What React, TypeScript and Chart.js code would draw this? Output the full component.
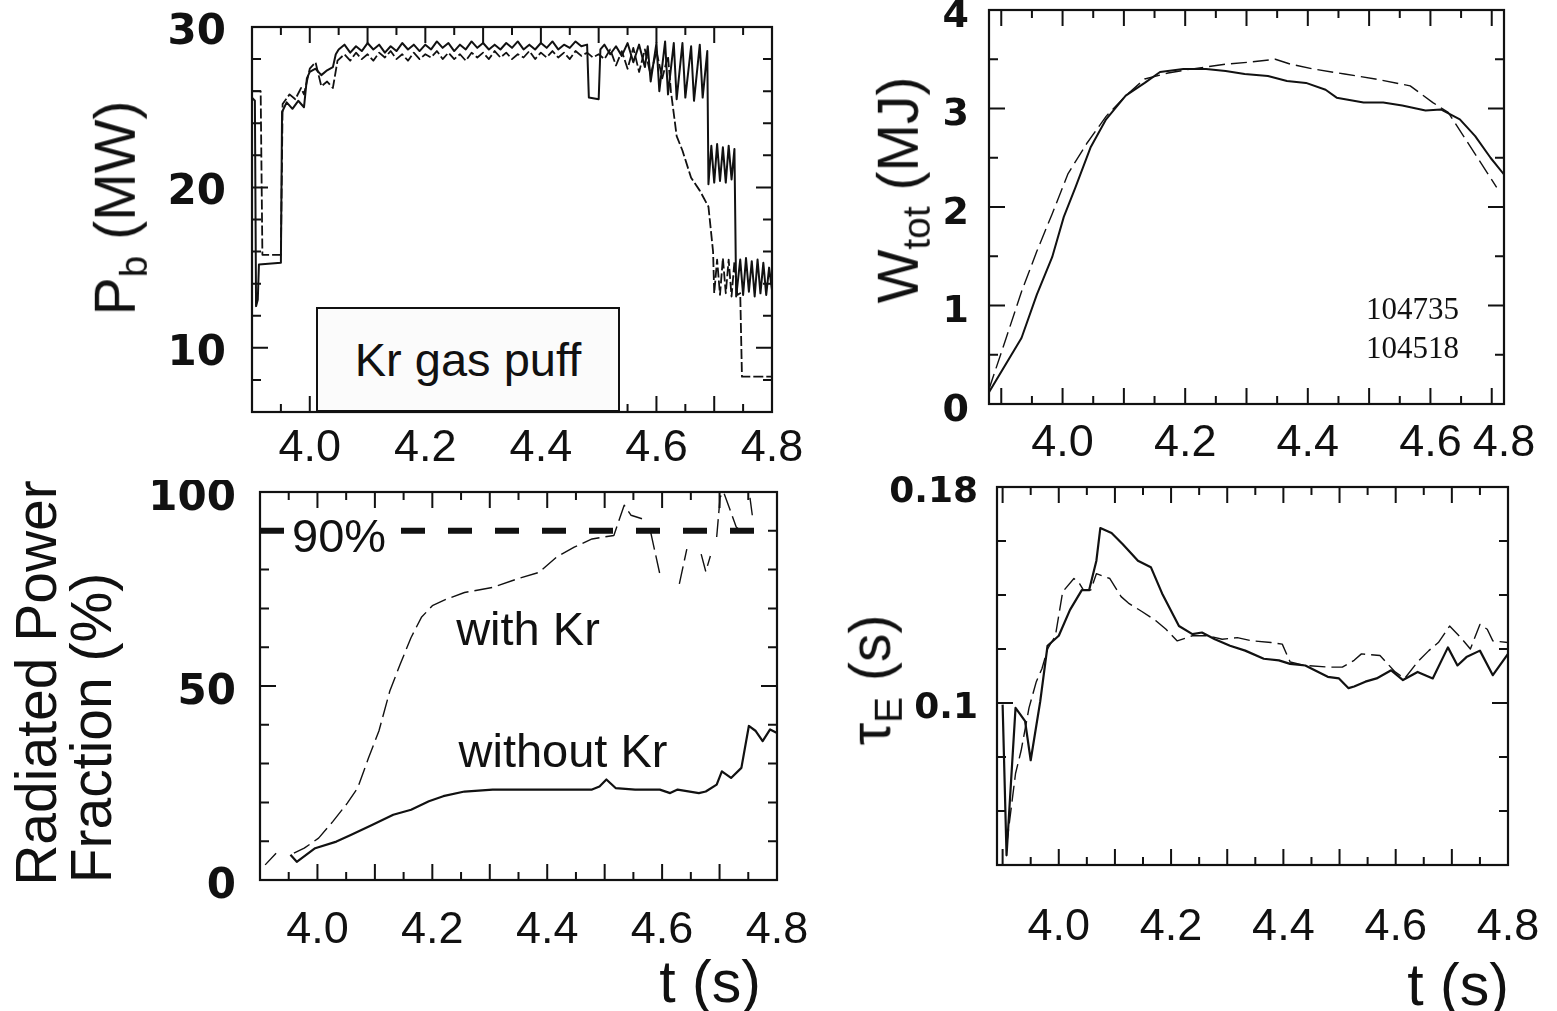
import React, { useEffect, useRef } from "react";
import { Chart, registerables } from "chart.js";
Chart.register(...registerables);

const SANS = "'Liberation Sans', Arial, Helvetica, sans-serif";
const BOLD_NUM = "'DejaVu Sans', 'Liberation Sans', sans-serif";
const SERIF = "'Liberation Serif', 'Times New Roman', serif";

// ---------- tick labels ----------
const X_TICK_VALUES = [4.0, 4.2, 4.4, 4.6, 4.8];
const X_TICK_LABELS = ["4.0", "4.2", "4.4", "4.6", "4.8"];
const P2_X_TICK_VALUES = [4.0, 4.2, 4.4, 4.6, 4.72];
const P1_Y_TICKS = [10, 20, 30];
const P2_Y_TICKS = [0, 1, 2, 3, 4];
const P3_Y_TICKS = [0, 50, 100];
const P4_Y_TICKS = [0.1, 0.18];
const P4_Y_LABELS = ["0.1", "0.18"];

// ---------- Panel 1: beam power P_b (MW) ----------
const P1_T_SOLID = [3.9, 3.905, 3.907, 3.91, 3.912, 3.95, 3.952, 3.96, 3.97, 3.98, 3.99, 3.995, 4.0, 4.01, 4.02, 4.03, 4.04, 4.045,
  4.05, 4.06, 4.07, 4.08, 4.09, 4.1, 4.11, 4.12, 4.13, 4.14, 4.15, 4.16, 4.17, 4.18, 4.19, 4.2, 4.21, 4.22, 4.23, 4.24, 4.25,
  4.26, 4.27, 4.28, 4.29, 4.3, 4.31, 4.32, 4.33, 4.34, 4.35, 4.36, 4.37, 4.38, 4.39, 4.4, 4.41, 4.42, 4.43, 4.44, 4.45, 4.46,
  4.47, 4.48, 4.483, 4.5, 4.503, 4.51, 4.52, 4.53, 4.54, 4.55, 4.56, 4.57, 4.58, 4.585, 4.59, 4.6, 4.605, 4.615, 4.62, 4.63,
  4.635, 4.645, 4.65, 4.66, 4.665, 4.675, 4.68, 4.688, 4.69, 4.695, 4.7, 4.705, 4.71, 4.715, 4.72, 4.725, 4.73, 4.735, 4.738,
  4.745, 4.75, 4.755, 4.76, 4.765, 4.77, 4.775, 4.78, 4.785, 4.79, 4.795, 4.8];
const P1_SOLID = [25.6, 25.4, 12.6, 13.0, 15.2, 15.3, 24.7, 25.3, 24.9, 25.4, 25.0, 26.8, 27.2, 27.4, 27.0, 27.3, 27.5, 28.3,
  28.6, 28.9, 28.4, 28.8, 28.5, 29.0, 28.6, 28.9, 28.4, 28.8, 28.5, 29.0, 28.6, 28.9, 28.5, 28.9, 28.6, 29.1, 28.7, 29.0, 28.5,
  28.9, 28.6, 29.1, 28.7, 29.0, 28.6, 28.9, 28.6, 29.0, 28.7, 29.1, 28.6, 28.9, 28.6, 29.0, 28.7, 29.1, 28.6, 28.9, 28.7, 29.1,
  28.8, 28.9, 25.6, 25.5, 28.6, 28.9, 28.3, 28.8, 28.2, 29.0, 27.8, 28.9, 27.5, 28.8, 26.6, 29.0, 26.0, 29.1, 25.8, 29.0,
  25.5, 29.0, 25.6, 28.8, 25.4, 28.9, 25.6, 28.5, 20.2, 22.6, 20.3, 22.7, 20.4, 22.5, 20.3, 22.6, 20.5, 22.4, 13.2,
  15.5, 13.3, 15.6, 13.5, 15.4, 13.2, 15.5, 13.4, 15.3, 13.3, 15.0, 13.6];

const P1_T_DASHED = [3.9, 3.915, 3.918, 3.95, 3.953, 3.965, 3.975, 3.985, 3.99, 4.0, 4.01, 4.02, 4.03, 4.04, 4.048,
  4.06, 4.07, 4.08, 4.09, 4.1, 4.11, 4.12, 4.13, 4.14, 4.15, 4.16, 4.17, 4.18, 4.19, 4.2, 4.21, 4.22, 4.23, 4.24, 4.25, 4.26,
  4.27, 4.28, 4.29, 4.3, 4.31, 4.32, 4.33, 4.34, 4.35, 4.36, 4.37, 4.38, 4.39, 4.4, 4.41, 4.42, 4.43, 4.44, 4.45, 4.46, 4.47,
  4.48, 4.49, 4.5, 4.51, 4.52, 4.53, 4.54, 4.55, 4.56, 4.57, 4.58, 4.59, 4.6, 4.61, 4.62, 4.625, 4.635, 4.645, 4.66, 4.675,
  4.69, 4.698, 4.7, 4.705, 4.71, 4.715, 4.72, 4.725, 4.73, 4.735, 4.74, 4.745, 4.748, 4.8];
const P1_DASHED = [26.0, 26.0, 15.8, 15.8, 25.2, 25.8, 25.5, 26.2, 25.8, 27.4, 27.8, 26.3, 26.6, 26.2, 27.9,
  28.3, 27.9, 28.4, 28.0, 28.3, 27.9, 28.4, 28.1, 28.5, 28.0, 28.3, 27.9, 28.4, 28.0, 28.3, 28.1, 28.5, 28.0, 28.4, 28.0, 28.3,
  27.9, 28.4, 28.1, 28.4, 28.0, 28.5, 28.1, 28.4, 28.0, 28.3, 28.1, 28.5, 28.0, 28.4, 28.1, 28.5, 28.1, 28.4, 28.0, 28.5, 28.2,
  28.4, 28.1, 28.3, 28.0, 28.6, 27.6, 28.5, 27.4, 28.7, 27.2, 28.6, 27.0, 28.5, 26.8, 28.2, 26.0, 23.2, 22.3, 20.6, 19.8,
  18.8, 16.0, 13.4, 15.5, 13.3, 15.6, 13.4, 15.5, 13.2, 15.4, 13.3, 13.4, 8.2, 8.2];

// ---------- Panel 2: stored energy W_tot (MJ) ----------
const P2_T_SOLID = [3.88, 3.933, 3.958, 3.983, 4.002, 4.021, 4.046, 4.071, 4.103, 4.134, 4.159, 4.197, 4.234, 4.266, 4.297,
  4.335, 4.366, 4.397, 4.429, 4.447, 4.491, 4.523, 4.554, 4.592, 4.617, 4.648, 4.673, 4.698, 4.72];
const P2_SOLID = [0.12, 0.67, 1.11, 1.49, 1.9, 2.2, 2.61, 2.89, 3.13, 3.26, 3.37, 3.4, 3.4, 3.38, 3.35,
  3.33, 3.28, 3.26, 3.19, 3.11, 3.06, 3.06, 3.03, 2.98, 2.99, 2.89, 2.72, 2.5, 2.33];
const P2_T_DASHED = [3.88, 3.908, 3.933, 3.958, 3.983, 4.009, 4.04, 4.071, 4.103, 4.134, 4.172, 4.209, 4.266, 4.303, 4.347,
  4.372, 4.41, 4.46, 4.51, 4.567, 4.604, 4.629, 4.654, 4.679, 4.708];
const P2_DASHED = [0.15, 0.67, 1.14, 1.55, 1.93, 2.34, 2.65, 2.92, 3.13, 3.3, 3.36, 3.4, 3.45, 3.47, 3.5,
  3.45, 3.4, 3.35, 3.3, 3.23, 3.06, 2.96, 2.72, 2.48, 2.2];

// ---------- Panel 3: radiated power fraction (%) ----------
const P3_T_WITHOUT = [3.953, 3.964, 3.996, 4.033, 4.058, 4.095, 4.132, 4.163, 4.194, 4.219, 4.256, 4.305, 4.367, 4.478,
  4.491, 4.503, 4.519, 4.553, 4.596, 4.614, 4.627, 4.664, 4.676, 4.695, 4.704, 4.72, 4.738, 4.751, 4.763, 4.775, 4.788, 4.8];
const P3_WITHOUT = [6.5, 4.7, 8.2, 9.9, 11.6, 14.2, 16.8, 18.1, 20.3, 21.6, 22.8, 23.3, 23.3, 23.3,
  24.1, 25.9, 23.7, 23.3, 23.3, 22.4, 23.3, 22.4, 22.8, 24.6, 28.0, 26.3, 28.9, 39.7, 38.4, 35.8, 38.8, 37.9];
const P3_T_WITH = [3.909, 3.928, 3.94, 3.959, 3.977, 4.002, 4.027, 4.052, 4.07, 4.089, 4.107, 4.126, 4.144, 4.163, 4.181,
  4.2, 4.225, 4.256, 4.305, 4.348, 4.386, 4.416, 4.447, 4.478, 4.516, 4.534, 4.546, 4.565, 4.572, 4.58, 4.596, 4.61,
  4.63, 4.643, 4.655, 4.668, 4.676, 4.684, 4.69, 4.695, 4.701, 4.707, 4.729, 4.74, 4.748, 4.753, 4.757];
const P3_WITH = [3.9, 6.9, null, 6.9, 8.2, 10.8, 15.1, 19.8, 23.7, 31.5, 38.4, 48.7, 55.6, 62.5, 67.7,
  70.7, 72.4, 74.1, 75.4, 77.6, 79.3, 83.2, 85.8, 87.9, 88.8, 96.6, 94.0, 93.1, null, 89.7, 78.9, null,
  76.3, 85.3, null, 84.0, 79.5, 83.5, null, 88.4, 98.7, 100, 91.0, 89.6, null, 98.5, 94.0];
const P3_T_LEVEL = [3.9, 4.8];
const P3_LEVEL = [90, 90];

// ---------- Panel 4: confinement time tau_E (s) ----------
const P4_T_SOLID = [3.9, 3.907, 3.923, 3.94, 3.95, 3.967, 3.98, 4.0, 4.02, 4.041, 4.054, 4.067, 4.074, 4.094, 4.114, 4.141,
  4.164, 4.184, 4.214, 4.238, 4.255, 4.278, 4.305, 4.332, 4.365, 4.392, 4.412, 4.439, 4.479, 4.499, 4.516, 4.526, 4.546,
  4.566, 4.592, 4.613, 4.639, 4.666, 4.693, 4.71, 4.726, 4.75, 4.773, 4.8];
const P4_SOLID = [0.0994, 0.0436, 0.0982, 0.0933, 0.0788, 0.1006, 0.1212, 0.1249, 0.1345, 0.1418, 0.1418, 0.1527, 0.1648,
  0.163, 0.1588, 0.1527, 0.1503, 0.1406, 0.1285, 0.1255, 0.1261, 0.1236, 0.1212, 0.1194, 0.1164, 0.1158, 0.1145, 0.1139,
  0.1097, 0.1091, 0.1055, 0.1061, 0.1079, 0.1091, 0.1121, 0.1085, 0.1115, 0.1091, 0.1206, 0.1139, 0.117, 0.1194, 0.1103,
  0.1182];
const P4_T_DASHED = [3.907, 3.923, 3.933, 3.947, 3.96, 3.97, 3.98, 3.994, 4.007, 4.027, 4.037, 4.044, 4.057, 4.067, 4.091,
  4.111, 4.124, 4.148, 4.174, 4.191, 4.211, 4.238, 4.265, 4.291, 4.318, 4.345, 4.378, 4.398, 4.412, 4.439, 4.479, 4.505,
  4.526, 4.539, 4.572, 4.599, 4.616, 4.639, 4.659, 4.676, 4.696, 4.716, 4.733, 4.75, 4.763, 4.773, 4.8];
const P4_DASHED = [0.0473, 0.0739, 0.0824, 0.0982, 0.1079, 0.1127, 0.12, 0.1249, 0.1412, 0.1461, 0.1442, 0.1418, 0.1418,
  0.1479, 0.1461, 0.1394, 0.137, 0.1339, 0.1303, 0.1273, 0.123, 0.1249, 0.1249, 0.1236, 0.1242, 0.123, 0.1224, 0.1218,
  0.1152, 0.1139, 0.1133, 0.1133, 0.1158, 0.1182, 0.1176, 0.1115, 0.1091, 0.1152, 0.1194, 0.1224, 0.1285, 0.1242, 0.12,
  0.1291, 0.1273, 0.123, 0.1224];

// ---------- helpers ----------
function pts(T: number[], V: (number | null)[]) {
  return T.map((t, i) => ({ x: t, y: V[i] }));
}
function marks(a: number, b: number, s: number) {
  const out: number[] = [];
  const n0 = Math.ceil(a / s - 1e-6);
  const n1 = Math.floor(b / s + 1e-6);
  for (let n = n0; n <= n1; n++) out.push(+(n * s).toFixed(6));
  return out;
}
const isMult = (v: number, m: number) => Math.abs(v / m - Math.round(v / m)) < 1e-6;

function framePlugin(xMarks: number[], xMajor: (v: number) => boolean, yMarks: number[], yMajor: (v: number) => boolean) {
  return {
    id: "frameTicks",
    afterDatasetsDraw(chart: any) {
      const { ctx, chartArea: a, scales } = chart;
      const xs = scales.x, ys = scales.y;
      ctx.save();
      ctx.strokeStyle = "#111";
      ctx.lineWidth = 2.2;
      ctx.strokeRect(a.left, a.top, a.right - a.left, a.bottom - a.top);
      ctx.lineWidth = 2;
      ctx.beginPath();
      for (const v of xMarks) {
        const p = xs.getPixelForValue(v);
        if (p < a.left + 2 || p > a.right - 2) continue;
        const L = xMajor(v) ? 16 : 8;
        ctx.moveTo(p, a.bottom); ctx.lineTo(p, a.bottom - L);
        ctx.moveTo(p, a.top); ctx.lineTo(p, a.top + L);
      }
      for (const v of yMarks) {
        const p = ys.getPixelForValue(v);
        if (p < a.top + 2 || p > a.bottom - 2) continue;
        const L = yMajor(v) ? 16 : 9;
        ctx.moveTo(a.left, p); ctx.lineTo(a.left + L, p);
        ctx.moveTo(a.right, p); ctx.lineTo(a.right - L, p);
      }
      ctx.stroke();
      ctx.restore();
    },
  };
}

type PanelProps = {
  pos: { x: number; y: number; w: number; h: number };
  box: { l: number; t: number; r: number; b: number };
  xMin: number; xMax: number; yMin: number; yMax: number;
  xTickVals: number[]; xTickLabels: string[];
  yTickVals: number[]; yTickLabels: string[];
  xPad: number; yPad: number; yLabelOffset: number; yFont: number;
  yMarks: number[]; yMajor: (v: number) => boolean;
  datasets: any[];
};

function Panel(p: PanelProps) {
  const ref = useRef<HTMLCanvasElement>(null);
  useEffect(() => {
    const yAxisW = p.box.l - p.pos.x;
    const topPad = p.box.t - p.pos.y;
    const rightPad = p.pos.x + p.pos.w - p.box.r;
    const xAxisH = p.pos.y + p.pos.h - p.box.b;
    const xMarks = marks(p.xMin, p.xMax, 0.05);
    const chart = new Chart(ref.current as HTMLCanvasElement, {
      type: "line",
      data: { datasets: p.datasets },
      options: {
        animation: false,
        responsive: false,
        events: [],
        layout: { padding: { top: topPad, right: rightPad, left: 0, bottom: 0 } },
        plugins: { legend: { display: false }, tooltip: { enabled: false } },
        elements: { point: { radius: 0 }, line: { tension: 0 } },
        scales: {
          x: {
            type: "linear", min: p.xMin, max: p.xMax,
            afterBuildTicks: (ax: any) => { ax.ticks = p.xTickVals.map((v) => ({ value: v })); },
            ticks: {
              color: "#111", font: { family: SANS, size: 45 }, padding: p.xPad,
              maxRotation: 0, minRotation: 0, autoSkip: false,
              callback: (_v: any, i: number) => p.xTickLabels[i],
            },
            grid: { display: false, drawTicks: false },
            border: { display: false },
            afterFit: (s: any) => { s.height = xAxisH; s.paddingLeft = 0; s.paddingRight = 0; },
          },
          y: {
            type: "linear", min: p.yMin, max: p.yMax,
            afterBuildTicks: (ax: any) => { ax.ticks = p.yTickVals.map((v) => ({ value: v })); },
            ticks: {
              color: "#111", font: { family: BOLD_NUM, size: p.yFont, weight: "bold" }, padding: p.yPad,
              labelOffset: p.yLabelOffset, autoSkip: false,
              callback: (_v: any, i: number) => p.yTickLabels[i],
            },
            grid: { display: false, drawTicks: false },
            border: { display: false },
            afterFit: (s: any) => { s.width = yAxisW; s.paddingTop = 0; s.paddingBottom = 0; },
          },
        },
      } as any,
      plugins: [framePlugin(xMarks, (v) => isMult(v, 0.1), p.yMarks, p.yMajor)],
    });
    return () => chart.destroy();
  }, []);
  return (
    <canvas
      ref={ref}
      width={p.pos.w}
      height={p.pos.h}
      style={{ position: "absolute", left: p.pos.x, top: p.pos.y, width: p.pos.w, height: p.pos.h }}
    />
  );
}

const solid = (data: any[], w = 2.2) => ({ data, borderColor: "#111", borderWidth: w, pointRadius: 0, fill: false, spanGaps: false, borderJoinStyle: "round" });
const dashed = (data: any[], dash = [16, 6], w = 1.5) => ({ ...solid(data, w), borderDash: dash });

function Text({ cx, cy, size, rotate = false, family = SANS, bg, children }: any) {
  return (
    <div
      style={{
        position: "absolute", left: cx, top: cy,
        transform: `translate(-50%, -50%)${rotate ? " rotate(-90deg)" : ""}`,
        fontFamily: family, fontSize: size, lineHeight: 1, whiteSpace: "nowrap",
        color: "#111", background: bg,
      }}
    >
      {children}
    </div>
  );
}
const Sub = ({ children }: any) => <span style={{ fontSize: "0.68em", verticalAlign: "-0.3em" }}>{children}</span>;

export default function App() {
  return (
    <div style={{ position: "absolute", left: 0, top: 0, width: 1557, height: 1011, background: "#fff", overflow: "hidden" }}>
      <Panel
        pos={{ x: 130, y: 0, w: 690, h: 490 }}
        box={{ l: 252, t: 27, r: 772, b: 412 }}
        xMin={3.9} xMax={4.8} yMin={6} yMax={30}
        xTickVals={X_TICK_VALUES} xTickLabels={X_TICK_LABELS}
        yTickVals={P1_Y_TICKS} yTickLabels={P1_Y_TICKS.map(String)}
        xPad={10} yPad={26} yLabelOffset={6} yFont={42}
        yMarks={marks(6, 30, 2)} yMajor={(v) => isMult(v, 10)}
        datasets={[solid(pts(P1_T_SOLID, P1_SOLID), 2), dashed(pts(P1_T_DASHED, P1_DASHED), [10, 3], 1.8)]}
      />
      <Panel
        pos={{ x: 880, y: 0, w: 677, h: 480 }}
        box={{ l: 989, t: 10, r: 1504, b: 404 }}
        xMin={3.88} xMax={4.72} yMin={0} yMax={4}
        xTickVals={P2_X_TICK_VALUES} xTickLabels={X_TICK_LABELS}
        yTickVals={P2_Y_TICKS} yTickLabels={P2_Y_TICKS.map(String)}
        xPad={13} yPad={20} yLabelOffset={7} yFont={38}
        yMarks={marks(0, 4, 0.5)} yMajor={(v) => isMult(v, 1)}
        datasets={[solid(pts(P2_T_SOLID, P2_SOLID), 2), dashed(pts(P2_T_DASHED, P2_DASHED), [16, 6], 1.4)]}
      />
      <Panel
        pos={{ x: 130, y: 480, w: 690, h: 480 }}
        box={{ l: 260, t: 492, r: 777, b: 880 }}
        xMin={3.9} xMax={4.8} yMin={0} yMax={100}
        xTickVals={X_TICK_VALUES} xTickLabels={X_TICK_LABELS}
        yTickVals={P3_Y_TICKS} yTickLabels={P3_Y_TICKS.map(String)}
        xPad={24} yPad={24} yLabelOffset={7} yFont={42}
        yMarks={marks(0, 100, 10)} yMajor={(v) => isMult(v, 50)}
        datasets={[
          solid(pts(P3_T_WITHOUT, P3_WITHOUT), 2.2),
          dashed(pts(P3_T_WITH, P3_WITH), [18, 6], 1.4),
          dashed(pts(P3_T_LEVEL, P3_LEVEL), [24, 23], 6),
        ]}
      />
      <Panel
        pos={{ x: 880, y: 475, w: 677, h: 485 }}
        box={{ l: 997, t: 487, r: 1508, b: 865 }}
        xMin={3.89} xMax={4.8} yMin={0.04} yMax={0.18}
        xTickVals={X_TICK_VALUES} xTickLabels={X_TICK_LABELS}
        yTickVals={P4_Y_TICKS} yTickLabels={P4_Y_LABELS}
        xPad={36} yPad={19} yLabelOffset={6} yFont={36}
        yMarks={marks(0.04, 0.18, 0.02)} yMajor={(v) => isMult(v, 0.1)}
        datasets={[solid(pts(P4_T_SOLID, P4_SOLID), 2.2), dashed(pts(P4_T_DASHED, P4_DASHED), [16, 6], 1.4)]}
      />

      {/* in-plot annotations */}
      <div
        style={{
          position: "absolute", left: 316, top: 307, width: 304, height: 105, boxSizing: "border-box",
          border: "2px solid #111", background: "#fbfbfb", display: "flex", alignItems: "center",
          justifyContent: "center", fontFamily: SANS, fontSize: 47, color: "#111", lineHeight: 1,
        }}
      >
        Kr gas puff
      </div>
      <div style={{ position: "absolute", left: 289, top: 512, padding: "0 6px 0 3px", background: "#fff", fontFamily: SANS, fontSize: 47, lineHeight: 1, color: "#111" }}>90%</div>
      <Text cx={528} cy={628} size={47}>with Kr</Text>
      <Text cx={563} cy={750} size={47}>without Kr</Text>
      <div style={{ position: "absolute", left: 1366, top: 290, fontFamily: SERIF, fontSize: 31, lineHeight: 1.25, color: "#111" }}>
        104735<br />104518
      </div>

      {/* axis titles */}
      <Text cx={120} cy={208} size={57} rotate>P<Sub>b</Sub> (MW)</Text>
      <Text cx={903} cy={190} size={57} rotate>W<Sub>tot</Sub> (MJ)</Text>
      <Text cx={36} cy={683} size={57} rotate>Radiated Power</Text>
      <Text cx={91} cy={728} size={57} rotate>Fraction (%)</Text>
      <Text cx={875} cy={680} size={57} rotate>τ<Sub>E</Sub> (s)</Text>
      <Text cx={710} cy={982} size={59}>t (s)</Text>
      <Text cx={1458} cy={985} size={59}>t (s)</Text>
    </div>
  );
}
